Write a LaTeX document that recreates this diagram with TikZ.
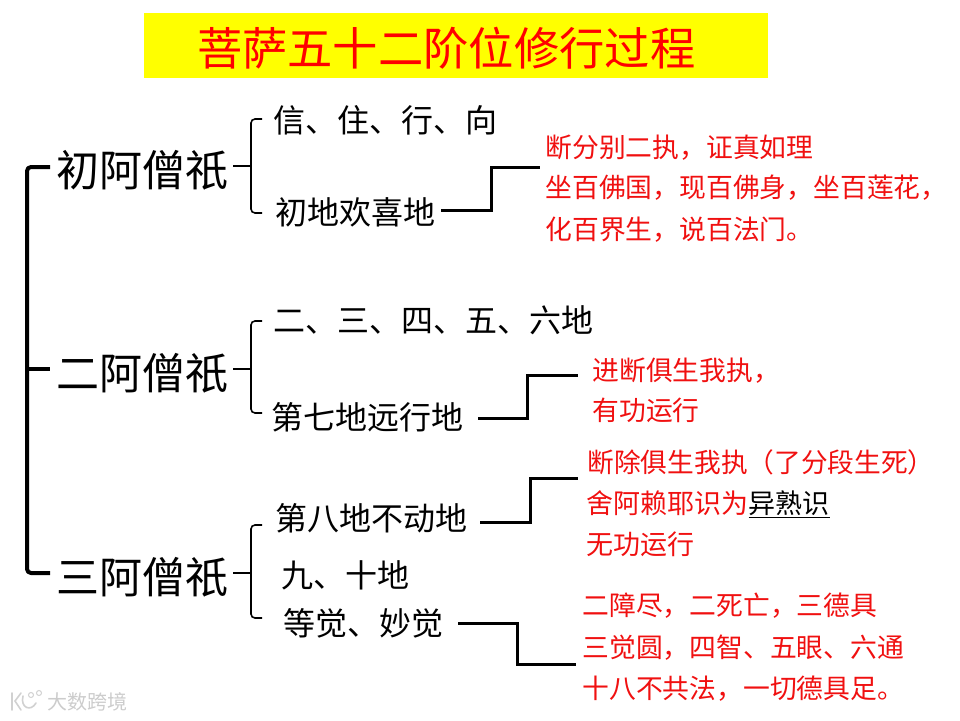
\documentclass[tikz,border=0pt]{standalone}
\usepackage{fontspec}
\setmainfont{Noto Sans CJK SC}
\usetikzlibrary{calc}
\definecolor{titleyellow}{HTML}{FFFF00}
\definecolor{txtred}{HTML}{F01010}
\newcommand{\fsz}[1]{\fontsize{#1}{#1}\selectfont}
\tikzset{
  txt/.style={anchor=west,inner sep=0pt,outer sep=0pt,font=\fsz{#1},text height=0.88*#1 pt,text depth=0.12*#1 pt},
  big/.style={txt=43},
  mid/.style={txt=32},
  note/.style={txt=#1,text=txtred},
  note/.default=26.8,
  main/.style={line width=4pt,line join=round,rounded corners=4pt},
  sub/.style={line width=1.6pt,rounded corners=4pt},
  link/.style={line width=3pt,line join=miter},
  mark1/.style={black!18,line width=1.6pt,line cap=round},
}
\begin{document}
\begin{tikzpicture}[x=1pt,y=-1pt]
\useasboundingbox (0,0) rectangle (960,720);
\fill[titleyellow] (144,13) rectangle (768,78);
\node[txt=45.3,text=red] (title) at (197,48) {菩萨五十二阶位修行过程};

% level 1
\node[big] (a1) at (56.5,170) {初阿僧祇};
\node[big] (a2) at (56.5,373) {二阿僧祇};
\node[big] (a3) at (56.5,577) {三阿僧祇};

% level 2
\node[mid] (b1) at (273,120) {信、住、行、向};
\node[mid] (b2) at (275.5,212) {初地欢喜地};
\node[mid] (b3) at (273,320) {二、三、四、五、六地};
\node[mid] (b4) at (271.5,417) {第七地远行地};
\node[mid] (b5) at (275.5,518) {第八地不动地};
\node[mid] (b6) at (281.5,575) {九、十地};
\node[mid] (b7) at (283.5,623) {等觉、妙觉};

% notes
\node[note] (n11) at (545.5,147) {断分别二执，证真如理};
\node[note] (n12) at (545.5,187) {坐百佛国，现百佛身，坐百莲花，};
\node[note] (n13) at (545.5,229) {化百界生，说百法门。};
\node[note] (n21) at (592.5,370) {进断俱生我执，};
\node[note] (n22) at (592.5,410) {有功运行};
\node[note=26.7] (n31) at (587.5,462) {断除俱生我执（了分段生死）};
\node[note=27] (n32) at (586.5,503) {舍阿赖耶识为{\color{black}\underline{异熟识}}};
\node[note=27] (n33) at (586.5,544) {无功运行};
\node[note] (n41) at (582.5,605) {二障尽，二死亡，三德具};
\node[note] (n42) at (582.5,647) {三觉圆，四智、五眼、六通};
\node[note] (n43) at (582.5,688) {十八不共法，一切德具足。};

% free ends of the connectors
\coordinate (m1) at (50,167);
\coordinate (m2) at (50,369);
\coordinate (m3) at (50,573);
\coordinate (s1) at (233,166);
\coordinate (s2) at (233,369);
\coordinate (s3) at (233,573);
\coordinate (l1) at (441,210);
\coordinate (e1) at (540,167);
\coordinate (l2) at (478,418);
\coordinate (e2) at (578,375);
\coordinate (l3) at (480,522);
\coordinate (e3) at (578,478);
\coordinate (l4) at (458,623);
\coordinate (e4) at (576,664);

% main bracket
\draw[main] (m1) -| (27,369) |- (m3);
\draw[line width=4pt] (27,369) -- (m2);

% sub brackets
\draw[sub] (262,119) -- (251,119) -- (251,213) -- (262,213);
\draw[sub] (s1) -- (251,166);
\draw[sub] (262,321) -- (251,321) -- (251,413) -- (262,413);
\draw[sub] (s2) -- (251,369);
\draw[sub] (262,525) -- (251,525) -- (251,618) -- (262,618);
\draw[sub] (s3) -- (251,573);

% links to the notes
\draw[link] (l1) -- (491,210) -- (491,167) -- (e1);
\draw[link] (l2) -- (527,418) -- (527,375) -- (e2);
\draw[link] (l3) -- (530,522) -- (530,478) -- (e3);
\draw[link] (l4) -- (517,623) -- (517,664) -- (e4);

% watermark
\node[txt=20,text=black!20] (wm) at (47,702) {大数跨境};
\draw[mark1] (12,693) -- (12,710) (21,693) -- (15,701) -- (21,710);
\draw[mark1] (23,696) .. controls (20,708) and (31,712) .. (36,703);
\draw[mark1,line width=1pt] (31,695) circle[radius=2.5] (39,693) circle[radius=2.5];
\end{tikzpicture}
\end{document}
